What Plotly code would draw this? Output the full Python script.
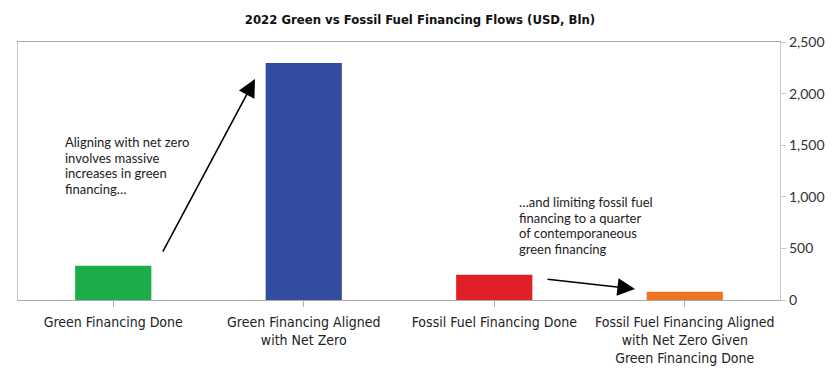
import plotly.graph_objects as go

categories = ["Green Financing Done", "Green Financing Aligned<br>with Net Zero",
              "Fossil Fuel Financing Done",
              "Fossil Fuel Financing Aligned<br>with Net Zero Given<br>Green Financing Done"]
values = [332, 2297, 245, 80]
colors = ["#1EAD4B", "#344C9F", "#E11F26", "#EE7623"]
tick_vals = [0, 500, 1000, 1500, 2000, 2500]

title = "2022 Green vs Fossil Fuel Financing Flows (USD, Bln)"
note1_lines = ["Aligning with net zero", "involves massive", "increases in green", "financing…"]
note2_lines = ["…and limiting fossil fuel", "financing to a quarter", "of contemporaneous", "green financing"]

narrow = "DejaVu Sans Condensed, Liberation Sans Narrow, sans-serif"
body = "Lato, Open Sans, sans-serif"

# page body has an 8px margin; figure sized/placed to compensate
W, H = 832, 362

fig = go.Figure(go.Bar(x=[0, 1, 2, 3], y=values, marker=dict(color=colors, line=dict(width=0)),
                       width=0.4))

fig.update_layout(
    width=W, height=H,
    margin=dict(l=10, r=60, t=34, b=70),
    plot_bgcolor="white", paper_bgcolor="white",
    showlegend=False,
    title=dict(text="<b>" + title + "</b>", x=412 / W, xanchor="center", y=1 - 11 / H,
               yanchor="middle", font=dict(family=narrow, size=13, color="#111")),
    xaxis=dict(tickmode="array", tickvals=[0, 1, 2, 3], ticktext=categories,
               range=[-0.5, 3.5], showline=True, linecolor="#aaaaaa", linewidth=1.2,
               mirror=True, ticks="outside", tickson="boundaries", ticklen=6,
               tickcolor="#aaaaaa", showgrid=False, zeroline=False, automargin=False,
               ticklabelstandoff=3,
               tickfont=dict(family=narrow, size=14, color="#222")),
    yaxis=dict(side="right", range=[0, 2500], tickvals=tick_vals, tickformat=",",
               showline=True, linecolor="#c8c8c8", linewidth=1.2, mirror=True,
               ticks="outside", ticklen=5, tickcolor="#c8c8c8", showgrid=False,
               zeroline=False, automargin=False,
               tickfont=dict(family=body, size=14, color="#333")),
)

fig.add_annotation(x=0.744, y=2141, ax=0.256, ay=455, xref="x", yref="y", axref="x", ayref="y",
                   showarrow=True, arrowhead=2, arrowsize=2.2, arrowwidth=1.6, arrowcolor="black",
                   text="")
fig.add_annotation(x=2.739, y=107, ax=2.272, ay=203, xref="x", yref="y", axref="x", ayref="y",
                   showarrow=True, arrowhead=2, arrowsize=2.2, arrowwidth=1.6, arrowcolor="black",
                   text="")

# text blocks, one line each for the tighter line spacing (pixels from plot top)
line_h = 15.5
for i, line in enumerate(note1_lines):
    fig.add_annotation(x=-0.258, y=1 - (100 + i * line_h) / 258, xref="x", yref="paper",
                       text=line, showarrow=False, xanchor="left", yanchor="middle",
                       borderpad=0, font=dict(family=body, size=13, color="#222"))
for i, line in enumerate(note2_lines):
    fig.add_annotation(x=2.125, y=1 - (160 + i * line_h) / 258, xref="x", yref="paper",
                       text=line, showarrow=False, xanchor="left", yanchor="middle",
                       borderpad=0, font=dict(family=body, size=13, color="#222"))

fig.write_html("out.html")
